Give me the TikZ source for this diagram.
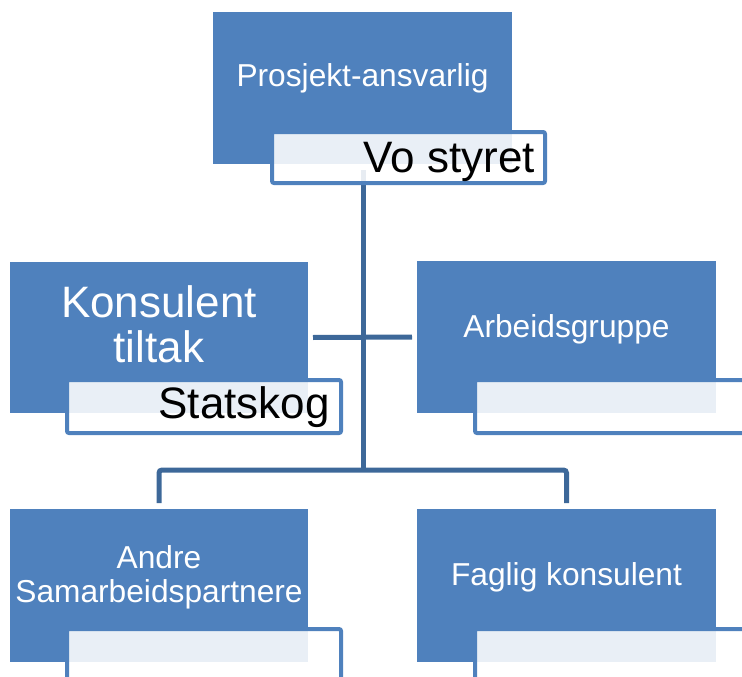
\documentclass[tikz,border=0pt]{standalone}
\usepackage{fontspec}
\setmainfont{Liberation Sans}
\definecolor{boxblue}{RGB}{79,129,189}
\definecolor{linkblue}{RGB}{61,104,153}
\begin{document}
\begin{tikzpicture}[x=1pt,y=-1pt,
  bluebox/.style={fill=boxblue,draw=none,inner sep=0pt,outer sep=0pt},
  lblbox/.style={draw=boxblue,line width=4pt,fill=white,fill opacity=0.88,rounded corners=2pt,inner sep=0pt,outer sep=0pt},
  smalltxt/.style={text=white,font=\fontsize{31.7}{36}\selectfont,inner sep=0pt},
  bigwhite/.style={text=white,font=\fontsize{44}{45}\selectfont,inner sep=0pt},
  bigblack/.style={text=black,font=\fontsize{44}{45}\selectfont,inner sep=0pt},
  link/.style={draw=linkblue,line width=5pt,rounded corners=3pt}]
\useasboundingbox (0,0) rectangle (742,677);
\clip (0,0) rectangle (742,677);
% boxes (positions)
\node[bluebox,minimum width=299pt,minimum height=152pt] (top) at (362.5,88) {};
\node[bluebox,minimum width=298pt,minimum height=151pt] (kons) at (159,337.5) {};
\node[bluebox,minimum width=299pt,minimum height=152pt] (arb) at (566.5,337) {};
\node[bluebox,minimum width=298pt,minimum height=153pt] (andre) at (159,585.5) {};
\node[bluebox,minimum width=299pt,minimum height=153pt] (fag) at (566.5,585.5) {};
% connectors (drawn beneath boxes via layering order below)
\coordinate (vtop) at (363,170);
\coordinate (hub) at (363,470);
\begin{scope}[on background layer/.style={}]
\end{scope}
\draw[link,rounded corners=0pt] (vtop) -- (hub);
\draw[link,rounded corners=0pt] ([xshift=5pt]kons.east) -- ([xshift=-5pt]arb.west);
\draw[link] ([yshift=6pt]andre.north) -- (andre.north |- hub) -- (fag.north |- hub) -- ([yshift=6pt]fag.north);
% label boxes
\node[lblbox,minimum width=273pt,minimum height=51pt] (toplbl) at (408.5,157.5) {};
\node[lblbox,minimum width=274pt,minimum height=53pt] (konslbl) at (204,406.5) {};
\node[lblbox,minimum width=274pt,minimum height=53pt] (arblbl) at (612,406.5) {};
\node[lblbox,minimum width=274pt,minimum height=53pt] (andrelbl) at (204,655.5) {};
\node[lblbox,minimum width=274pt,minimum height=53pt] (faglbl) at (612,655.5) {};
% texts
\node[smalltxt,anchor=base] (toptxt) at (362.5,87) {Prosjekt-ansvarlig};
\node[bigblack,anchor=base east] (toplbltxt) at (535,172) {Vo styret};
\node[bigwhite,anchor=base] (konstxtA) at (159,317) {Konsulent};
\node[bigwhite,anchor=base] (konstxtB) at (159,362) {tiltak};
\node[bigblack,anchor=base east] (konslbltxt) at (330,418) {Statskog};
\node[smalltxt,anchor=base] (arbtxt) at (566.5,337) {Arbeidsgruppe};
\node[smalltxt,anchor=base] (andretxtA) at (159,568) {Andre};
\node[smalltxt,anchor=base] (andretxtB) at (159,602) {Samarbeidspartnere};
\node[smalltxt,anchor=base] (fagtxt) at (566.5,585) {Faglig konsulent};
\end{tikzpicture}
\end{document}
